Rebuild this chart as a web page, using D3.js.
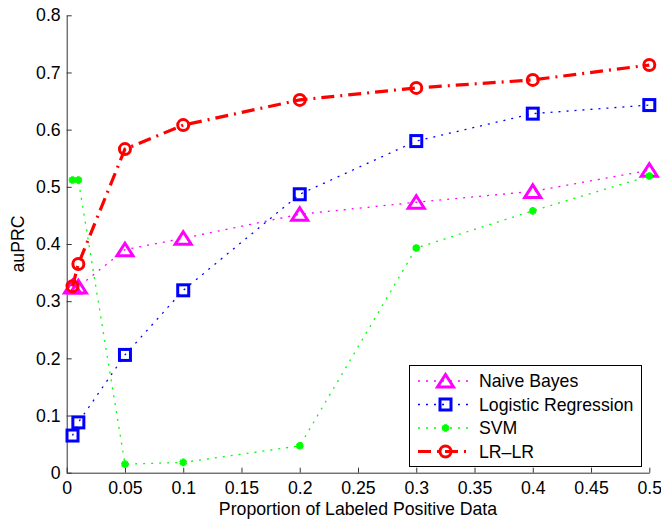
<!DOCTYPE html>
<html>
<head>
<meta charset="utf-8">
<script src="https://cdn.jsdelivr.net/npm/d3@7"></script>
<style>
  body { margin: 0; background: #fff; }
  text { font-family: "Liberation Sans", Arial, Helvetica, sans-serif; }
</style>
</head>
<body>
<script>
// values
const proportions = [0.005, 0.01, 0.05, 0.1, 0.2, 0.3, 0.4, 0.5];
const naiveBayes = [0.325, 0.325, 0.39, 0.41, 0.452, 0.473, 0.492, 0.529];
const logisticRegression = [0.065, 0.088, 0.206, 0.319, 0.487, 0.580, 0.628, 0.643];
const svm = [0.512, 0.512, 0.015, 0.018, 0.047, 0.393, 0.458, 0.519];
const lrLr = [0.326, 0.365, 0.566, 0.608, 0.652, 0.673, 0.687, 0.713];
const seriesNames = ['Naive Bayes', 'Logistic Regression', 'SVM', 'LR\u2013LR'];
const xTicks = [0, 0.05, 0.1, 0.15, 0.2, 0.25, 0.3, 0.35, 0.4, 0.45, 0.5];
const yTicks = [0, 0.1, 0.2, 0.3, 0.4, 0.5, 0.6, 0.7, 0.8];

const width = 661, height = 520;
const fontSize = 17.7;

const svg = d3.select('body').append('svg')
      .attr('width', width)
      .attr('height', height);

const x = d3.scaleLinear().domain([0, 0.5]).range([66.7, 649.3]);
const y = d3.scaleLinear().domain([0, 0.8]).range([472.7, 15.3]);

const series = [
    {name: seriesNames[0], values: naiveBayes, color: '#ff00ff', dash: '2,6', lw: 1.3, marker: 'triangle'},
    {name: seriesNames[1], values: logisticRegression, color: '#0000ff', dash: '2,6', lw: 1.3, marker: 'square'},
    {name: seriesNames[2], values: svm, color: '#00ff00', dash: '2,6', lw: 1.3, marker: 'star'},
    {name: seriesNames[3], values: lrLr, color: '#ff0000', dash: '13,6,2,6', lw: 3.2, marker: 'circle'}
];

function drawMarker(g, kind, color) {
    if (kind === 'triangle') {
	g.append('path').attr('d', 'M0,-6.5L8,6L-8,6Z')
	    .attr('fill', 'none').attr('stroke', color).attr('stroke-width', 3)
	    .attr('stroke-linejoin', 'miter');
    } else if (kind === 'square') {
	g.append('rect').attr('x', -5.5).attr('y', -5.5).attr('width', 11).attr('height', 11)
	    .attr('fill', 'none').attr('stroke', color).attr('stroke-width', 3);
    } else if (kind === 'circle') {
	g.append('circle').attr('r', 5.5)
	    .attr('fill', 'none').attr('stroke', color).attr('stroke-width', 3);
    } else {
	g.append('path').attr('d', d3.symbol(d3.symbolAsterisk, 40)())
	    .attr('fill', 'none').attr('stroke', color).attr('stroke-width', 3);
    }
}

const line = d3.line()
      .x((d, i) => x(proportions[i]))
      .y(d => y(d));

// axes
const xAxis = svg.append('g')
      .attr('transform', `translate(0, ${y(0)})`)
      .call(d3.axisBottom(x).tickValues(xTicks).tickFormat(d3.format('~g'))
	    .tickSizeInner(-5).tickSizeOuter(0).tickPadding(9));

const yAxis = svg.append('g')
      .attr('transform', `translate(${x(0)}, 0)`)
      .call(d3.axisLeft(y).tickValues(yTicks).tickFormat(d3.format('~g'))
	    .tickSizeInner(-5).tickSizeOuter(0).tickPadding(6));

[xAxis, yAxis].forEach(a => {
    a.selectAll('path, line').attr('stroke', '#333');
    a.selectAll('text').attr('fill', '#000')
	.style('font-size', fontSize + 'px')
	.style('font-family', '"Liberation Sans", Arial, sans-serif');
});

svg.append('text')
    .attr('x', (x(0) + x(0.5)) / 2)
    .attr('y', 515)
    .attr('text-anchor', 'middle')
    .style('font-size', fontSize + 'px')
    .text('Proportion of Labeled Positive Data');

svg.append('text')
    .attr('transform', `translate(24, ${(y(0) + y(0.8)) / 2}) rotate(-90)`)
    .attr('text-anchor', 'middle')
    .style('font-size', fontSize + 'px')
    .text('auPRC');

// series
const groups = svg.selectAll('g.series')
      .data(series)
      .enter()
      .append('g')
      .attr('class', 'series');

groups.append('path')
    .attr('d', d => line(d.values))
    .attr('fill', 'none')
    .attr('stroke', d => d.color)
    .attr('stroke-width', d => d.lw)
    .attr('stroke-dasharray', d => d.dash);

groups.each(function(s) {
    const g = d3.select(this);
    s.values.forEach((v, i) => {
	const m = g.append('g').attr('transform', `translate(${x(proportions[i])}, ${y(v)})`);
	drawMarker(m, s.marker, s.color);
    });
});

// legend
const legend = svg.append('g');
legend.append('rect')
    .attr('x', 409.5).attr('y', 365.5)
    .attr('width', 232).attr('height', 101)
    .attr('fill', '#fff').attr('stroke', '#000').attr('stroke-width', 1);

const rowY = [381, 404.5, 428, 451.5];
series.forEach((s, i) => {
    const row = legend.append('g').attr('transform', `translate(0, ${rowY[i]})`);
    row.append('line')
	.attr('x1', 418).attr('x2', 472)
	.attr('stroke', s.color)
	.attr('stroke-width', s.lw)
	.attr('stroke-dasharray', s.dash);
    drawMarker(row.append('g').attr('transform', 'translate(445.5, 0)'), s.marker, s.color);
    row.append('text')
	.attr('x', 479)
	.attr('y', 6)
	.style('font-size', fontSize + 'px')
	.text(s.name);
});
</script>
</body>
</html>
